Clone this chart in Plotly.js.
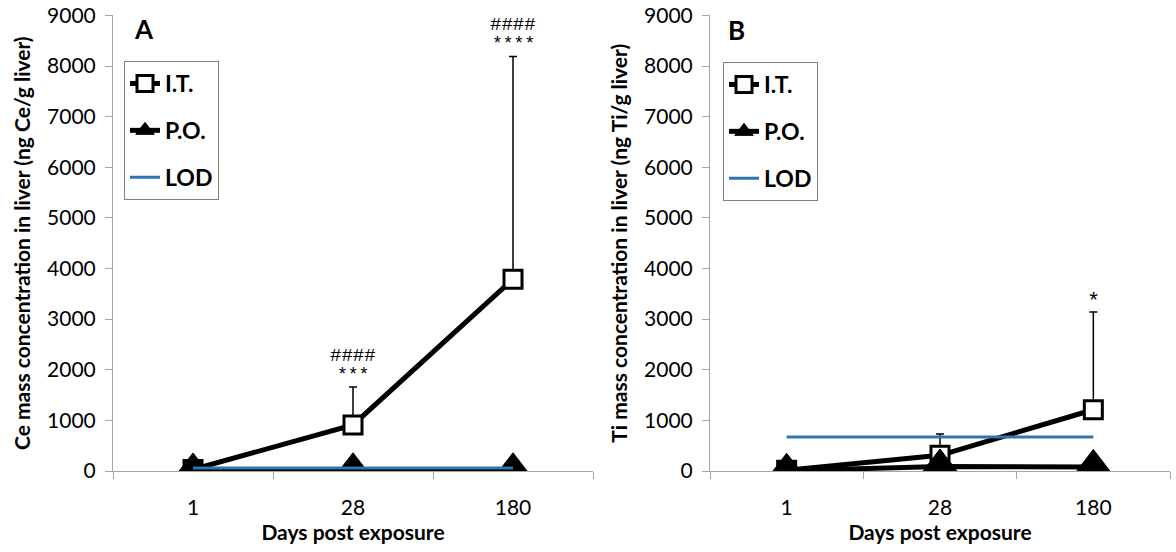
<!DOCTYPE html>
<html>
<head>
<meta charset="utf-8">
<script src="https://cdn.plot.ly/plotly-3.0.1.min.js"></script>
<style>html,body{margin:0;padding:0;background:#fff;}#chart{width:1176px;height:552px;}</style>
</head>
<body>
<div id="chart"></div>
<script>
// ---- data ----
const days = ["1", "28", "180"];

// Panel A: Ce (ng Ce/g liver)
const ceIT = [30, 910, 3790];
const ceITerr = [5, 750, 4400];
const cePO = [10, 15, 15];
const ceLOD = [60, 60, 60];

// Panel B: Ti (ng Ti/g liver)
const tiIT = [15, 310, 1210];
const tiITerr = [60, 420, 1930];
const tiPO = [5, 90, 80];
const tiLOD = [670, 670, 670];

const seriesNames = ["I.T.", "P.O.", "LOD"];
const panelLabels = ["A", "B"];
const yTitles = ["Ce mass concentration in liver (ng Ce/g liver)", "Ti mass concentration in liver (ng Ti/g liver)"];
const xTitle = "Days post exposure";

// significance labels: [dayIndex, upper line, lower line]
const sigA = [[1, "####", "***"], [2, "####", "****"]];
const sigB = [[2, null, "*"]];

// ---- styles ----
const BLACK = "#000000";
const BLUE = "#2E75B6";
const GREY = "#a6a6a6";
const SANS = "Lato, 'Open Sans', sans-serif";

function panelTraces(it, itErr, po, lod, xa, ya, legendId) {
  return [
    {
      x: days, y: it, xaxis: xa, yaxis: ya, name: seriesNames[0], legend: legendId, legendgroup: legendId + "it",
      type: "scatter", mode: "lines+markers",
      line: {color: BLACK, width: 5},
      marker: {symbol: "square", size: 18, color: "#ffffff", line: {color: BLACK, width: 3}},
      error_y: {type: "data", array: itErr, arrayminus: itErr.map(() => 0), symmetric: false, color: BLACK, thickness: 1.5, width: 4}
    },
    {
      x: days, y: po, xaxis: xa, yaxis: ya, name: seriesNames[1], legend: legendId, legendgroup: legendId + "po",
      type: "scatter", mode: "lines+markers",
      line: {color: BLACK, width: 5},
      marker: {symbol: "triangle-up", size: 35, color: BLACK, line: {color: BLACK, width: 1}}
    },
    {
      x: days, y: lod, xaxis: xa, yaxis: ya, name: seriesNames[2], legend: legendId, legendgroup: legendId + "lod",
      type: "scatter", mode: "lines",
      line: {color: BLUE, width: 3}
    }
  ];
}

const data = [].concat(
  panelTraces(ceIT, ceITerr, cePO, ceLOD, "x", "y", "legend"),
  panelTraces(tiIT, tiITerr, tiPO, tiLOD, "x2", "y2", "legend2")
);

function xAxis(domain, anchor) {
  return {
    domain: domain, anchor: anchor, type: "category", range: [-0.5, 2.5],
    tickson: "boundaries", ticks: "outside", ticklen: 7, tickcolor: GREY, tickwidth: 1,
    showline: true, linecolor: GREY, linewidth: 1, showgrid: false, zeroline: false,
    tickfont: {family: SANS, size: 21, color: "#000"}, ticklabelstandoff: 18,
    title: {text: xTitle, font: {family: SANS, size: 21, color: "#000", weight: "bold"}, standoff: 5},
    fixedrange: true
  };
}
function yAxis(domain, anchor, title) {
  return {
    domain: domain, anchor: anchor, range: [0, 9000], dtick: 1000,
    ticks: "outside", ticklen: 7, tickcolor: GREY, tickwidth: 1,
    showline: true, linecolor: GREY, linewidth: 1, showgrid: false, zeroline: false,
    tickfont: {family: SANS, size: 21, color: "#000"}, ticklabelstandoff: 5,
    title: {text: title, font: {family: SANS, size: 21, color: "#000", weight: "bold"}, standoff: 10},
    fixedrange: true
  };
}

function legendCfg(x, y) {
  return {
    x: x, y: y, xanchor: "left", yanchor: "top", xref: "paper", yref: "paper",
    bgcolor: "#ffffff", bordercolor: "#808080", borderwidth: 1,
    font: {family: SANS, size: 23, color: "#000", weight: "bold"},
    traceorder: "grouped", tracegroupgap: 14, itemwidth: 30
  };
}

const annotations = [];
const MONO = "'Liberation Mono', 'DejaVu Sans Mono', monospace";
function addSig(list, xa, ya, vals, errs, size, shift) {
  list.forEach(function (s) {
    const i = s[0];
    const top = vals[i] + errs[i];
    annotations.push({x: i, y: top, xref: xa, yref: ya, text: s[2], showarrow: false,
      xanchor: "center", yanchor: "bottom", yshift: shift, font: {family: MONO, size: size, color: "#000"}});
    if (s[1]) {
      annotations.push({x: i, y: top, xref: xa, yref: ya, text: s[1], showarrow: false,
        xanchor: "center", yanchor: "bottom", yshift: shift + 18, font: {family: MONO, size: 19, color: "#000"}});
    }
  });
}
addSig(sigA, "x", "y", ceIT, ceITerr, 18, 0);
addSig(sigB, "x2", "y2", tiIT, tiITerr, 22, -5);

annotations.push({x: 144 / 1176, y: 1 - 29 / 552, xref: "paper", yref: "paper", text: "<b>" + panelLabels[0] + "</b>",
  xanchor: "center", yanchor: "middle", showarrow: false, font: {family: SANS, size: 26, color: "#000"}});
annotations.push({x: 736 / 1176, y: 1 - 30 / 552, xref: "paper", yref: "paper", text: "<b>" + panelLabels[1] + "</b>",
  xanchor: "center", yanchor: "middle", showarrow: false, font: {family: SANS, size: 26, color: "#000"}});

const yDom = [1 - 471 / 552, 1 - 15.4 / 552];
const layout = {
  width: 1176, height: 552,
  margin: {l: 0, r: 0, t: 0, b: 0},
  paper_bgcolor: "#ffffff", plot_bgcolor: "#ffffff",
  showlegend: true,
  xaxis: xAxis([113 / 1176, 593 / 1176], "y"),
  yaxis: yAxis(yDom, "x", yTitles[0]),
  xaxis2: xAxis([710 / 1176, 1170 / 1176], "y2"),
  yaxis2: yAxis(yDom, "x2", yTitles[1]),
  legend: legendCfg(124 / 1176, 1 - 61 / 552),
  legend2: legendCfg(723 / 1176, 1 - 62 / 552),
  annotations: annotations
};

Plotly.newPlot("chart", data, layout, {displayModeBar: false, staticPlot: true});
</script>
</body>
</html>
